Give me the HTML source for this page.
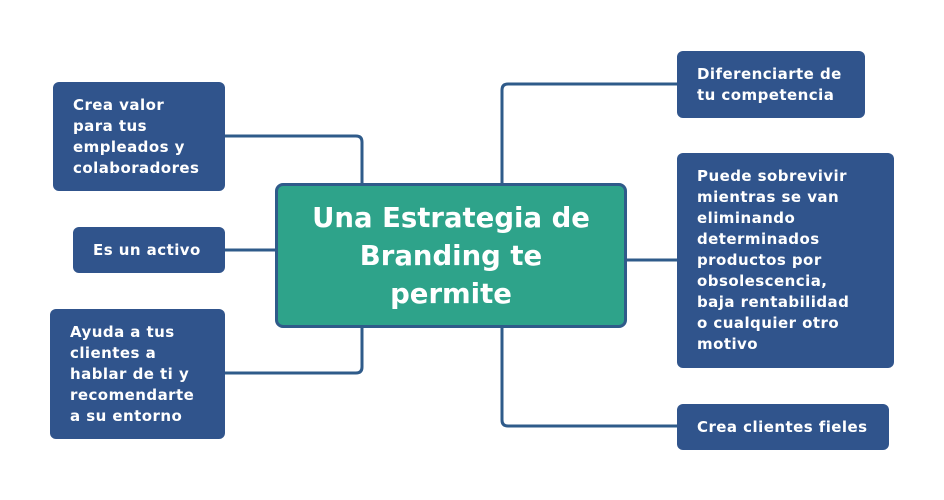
<!DOCTYPE html><html><head><style>
body{margin:0;width:944px;height:500px;background:#fff;position:relative;font-family:"DejaVu Sans","Liberation Sans",sans-serif;font-weight:bold;overflow:hidden}
.b{position:absolute;background:#30548c;color:#fff;border-radius:6px;font-size:15px;letter-spacing:0.45px;line-height:21px;box-sizing:border-box;padding-left:20px;display:flex;align-items:center;white-space:nowrap}
.c{position:absolute;left:275px;top:183px;width:352px;height:145px;box-sizing:border-box;background:#2ea38a;border:3px solid #2f5b8a;border-radius:8px;color:#fff;font-size:27.5px;line-height:38px;text-align:center;display:flex;align-items:center;justify-content:center}
svg{position:absolute;left:0;top:0}
</style></head><body>
<svg width="944" height="500" fill="none" stroke="#2f5b8a" stroke-width="3">
<path d="M225 136H356q6 0 6 6V183"/>
<path d="M225 250H275"/>
<path d="M225 373H356q6 0 6-6V328"/>
<path d="M502 183V90q0-6 6-6H677"/>
<path d="M627 260H677"/>
<path d="M502 328V420q0 6 6 6H677"/>
</svg>
<div class="c"><div>Una Estrategia de<br>Branding te<br>permite</div></div>
<div class="b" style="left:53px;top:82px;width:172px;height:109px"><div>Crea valor<br>para tus<br>empleados y<br>colaboradores</div></div>
<div class="b" style="left:73px;top:227px;width:152px;height:46px"><div>Es un activo</div></div>
<div class="b" style="left:50px;top:309px;width:175px;height:130px"><div>Ayuda a tus<br>clientes a<br>hablar de ti y<br>recomendarte<br>a su entorno</div></div>
<div class="b" style="left:677px;top:51px;width:188px;height:67px"><div>Diferenciarte de<br>tu competencia</div></div>
<div class="b" style="left:677px;top:153px;width:217px;height:215px"><div>Puede sobrevivir<br>mientras se van<br>eliminando<br>determinados<br>productos por<br>obsolescencia,<br>baja rentabilidad<br>o cualquier otro<br>motivo</div></div>
<div class="b" style="left:677px;top:404px;width:212px;height:46px"><div>Crea clientes fieles</div></div>
</body></html>
